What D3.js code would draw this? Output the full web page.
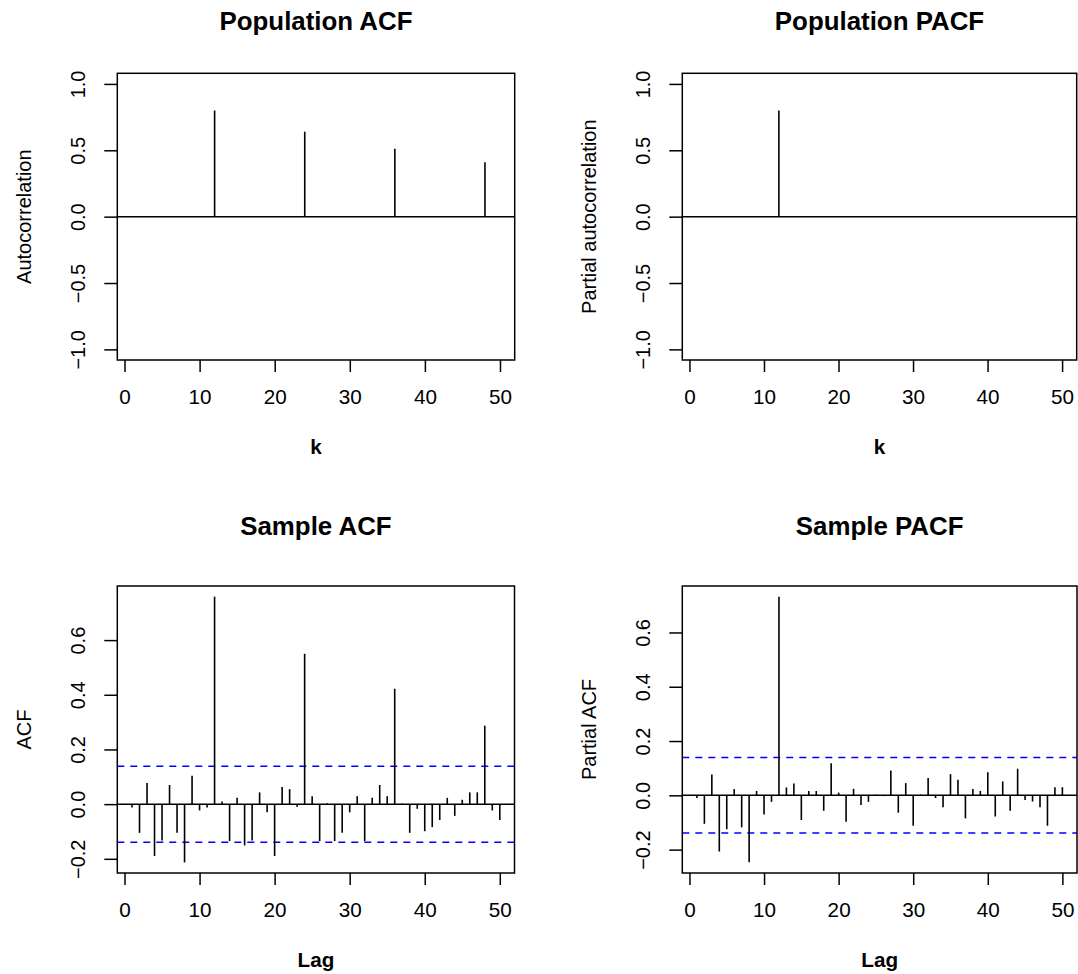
<!DOCTYPE html>
<html>
<head>
<meta charset="utf-8">
<script src="https://cdn.jsdelivr.net/npm/d3@7"></script>
<style>
  body { margin: 0; background: #fff; }
  svg { display: block; }
</style>
</head>
<body>
<svg id="chart" width="1078" height="974"></svg>
<script>
// lags shown on every panel
const lags = d3.range(1, 51);

// theoretical seasonal AR(1) values (only non-zero lags)
const popAcfLags = [12, 24, 36, 48];
const popAcfValues = [0.8, 0.64, 0.512, 0.41];
const popPacfLags = [12];
const popPacfValues = [0.8];

// sample ACF / PACF, lags 1..50
const sampleAcf = [
  -0.012, -0.105, 0.077, -0.19, -0.133, 0.07, -0.105, -0.213, 0.104, -0.023,
  -0.012, 0.759, 0.01, -0.135, 0.023, -0.151, -0.133, 0.043, -0.03, -0.19,
  0.063, 0.055, -0.01, 0.55, 0.029, -0.135, 0.003, -0.135, -0.105, -0.03,
  0.029, -0.135, 0.023, 0.07, 0.029, 0.422, 0.002, -0.105, -0.017, -0.099,
  -0.084, -0.058, 0.023, -0.043, 0.016, 0.043, 0.043, 0.287, -0.023, -0.058
];
const samplePacf = [
  -0.01, -0.105, 0.077, -0.207, -0.125, 0.023, -0.118, -0.247, 0.016, -0.071,
  -0.024, 0.732, 0.029, 0.044, -0.091, 0.016, 0.016, -0.057, 0.118, 0.01,
  -0.097, 0.024, -0.036, -0.024, 0.002, -0.003, 0.091, -0.064, 0.045, -0.112,
  0.003, 0.064, -0.01, -0.044, 0.078, 0.057, -0.085, 0.023, 0.016, 0.085,
  -0.078, 0.051, -0.057, 0.098, -0.017, -0.023, -0.044, -0.112, 0.03, 0.03
];

// 95% white-noise bound
const ciBound = 0.139;

const xTicks = [0, 10, 20, 30, 40, 50];
const popYTicks = [-1, -0.5, 0, 0.5, 1];
const sampleYTicks = [-0.2, 0, 0.2, 0.4, 0.6];

const FONT = '"Liberation Sans", Arial, Helvetica, sans-serif';
const STRETCH = 'scale(1.035,1)';

// R-style 4% axis extension
function extend([a, b]) {
  const pad = (b - a) * 0.04;
  return [a - pad, b + pad];
}

const panels = [
  { title: 'Population ACF', ylab: 'Autocorrelation', xlab: 'k',
    lags: popAcfLags, values: popAcfValues, yTicks: popYTicks, yRange: [-1, 1], ci: null,
    left: 117.3, right: 514.7, top: 73.3, bottom: 360, titleY: 30, xlabY: 454 },
  { title: 'Population PACF', ylab: 'Partial autocorrelation', xlab: 'k',
    lags: popPacfLags, values: popPacfValues, yTicks: popYTicks, yRange: [-1, 1], ci: null,
    left: 682.3, right: 1076.7, top: 73.3, bottom: 360, titleY: 30, xlabY: 454 },
  { title: 'Sample ACF', ylab: 'ACF', xlab: 'Lag',
    lags: lags, values: sampleAcf, yTicks: sampleYTicks, yRange: null, ci: ciBound,
    left: 117.3, right: 514.5, top: 586, bottom: 873, titleY: 535, xlabY: 967 },
  { title: 'Sample PACF', ylab: 'Partial ACF', xlab: 'Lag',
    lags: lags, values: samplePacf, yTicks: sampleYTicks, yRange: null, ci: ciBound,
    left: 682.3, right: 1077, top: 586, bottom: 873, titleY: 535, xlabY: 967 }
];

const svg = d3.select('#chart');

panels.forEach(p => {
  const x = d3.scaleLinear()
    .domain(extend(d3.extent(lags)))
    .range([p.left, p.right]);

  let yRange = p.yRange;
  if (!yRange) {
    yRange = d3.extent(p.values.concat([-p.ci, p.ci]));
  }
  const y = d3.scaleLinear()
    .domain(extend(yRange))
    .range([p.bottom, p.top]);

  const g = svg.append('g');

  // x axis
  const xAxis = g.append('g')
    .attr('transform', `translate(0,${p.bottom})`)
    .call(d3.axisBottom(x).tickValues(xTicks).tickSize(12).tickSizeOuter(0));
  xAxis.select('.domain').remove();
  xAxis.selectAll('line').attr('stroke', '#000').attr('stroke-width', 1.5);
  xAxis.selectAll('text')
    .attr('y', 44).attr('dy', null)
    .attr('transform', STRETCH)
    .attr('fill', '#000')
    .style('font-family', FONT).style('font-size', '20px');

  // y axis, labels rotated like R's default las = 0
  const yAxis = g.append('g')
    .attr('transform', `translate(${p.left},0)`)
    .call(d3.axisLeft(y).tickValues(p.yTicks).tickFormat(d3.format('.1f')).tickSize(13).tickSizeOuter(0));
  yAxis.select('.domain').remove();
  yAxis.selectAll('line').attr('stroke', '#000').attr('stroke-width', 1.5);
  yAxis.selectAll('text')
    .attr('x', null).attr('dy', null)
    .attr('text-anchor', 'middle')
    .attr('transform', 'translate(-32,0) rotate(-90)')
    .attr('fill', '#000')
    .style('font-family', FONT).style('font-size', '20px');

  // zero line
  g.append('line')
    .attr('x1', p.left).attr('x2', p.right)
    .attr('y1', y(0)).attr('y2', y(0))
    .attr('stroke', '#000').attr('stroke-width', 1.5);

  // confidence bounds
  if (p.ci) {
    [p.ci, -p.ci].forEach(c => {
      g.append('line')
        .attr('x1', p.left).attr('x2', p.right)
        .attr('y1', y(c)).attr('y2', y(c))
        .attr('stroke', '#0000ff').attr('stroke-width', 1.5)
        .attr('stroke-dasharray', '7,6');
    });
  }

  // spikes (type = "h")
  g.append('g').selectAll('line')
    .data(p.values.map((v, i) => ({ lag: p.lags[i], v })))
    .join('line')
    .attr('x1', d => x(d.lag)).attr('x2', d => x(d.lag))
    .attr('y1', y(0)).attr('y2', d => y(d.v))
    .attr('stroke', '#000').attr('stroke-width', 1.6);

  // plot box
  g.append('rect')
    .attr('x', p.left).attr('y', p.top)
    .attr('width', p.right - p.left).attr('height', p.bottom - p.top)
    .attr('fill', 'none').attr('stroke', '#000').attr('stroke-width', 1.5);

  const cx = (p.left + p.right) / 2;
  const cy = (p.top + p.bottom) / 2;

  // title
  g.append('text')
    .attr('transform', `translate(${cx},${p.titleY}) ${STRETCH}`)
    .attr('text-anchor', 'middle')
    .style('font-family', FONT).style('font-size', '25px').style('font-weight', 'bold')
    .text(p.title);

  // x label
  g.append('text')
    .attr('transform', `translate(${cx},${p.xlabY}) ${STRETCH}`)
    .attr('text-anchor', 'middle')
    .style('font-family', FONT).style('font-size', '20px').style('font-weight', 'bold')
    .text(p.xlab);

  // y label
  g.append('text')
    .attr('transform', `translate(${p.left - 86.3},${cy}) rotate(-90)`)
    .attr('text-anchor', 'middle')
    .style('font-family', FONT).style('font-size', '20px')
    .text(p.ylab);
});
</script>
</body>
</html>
